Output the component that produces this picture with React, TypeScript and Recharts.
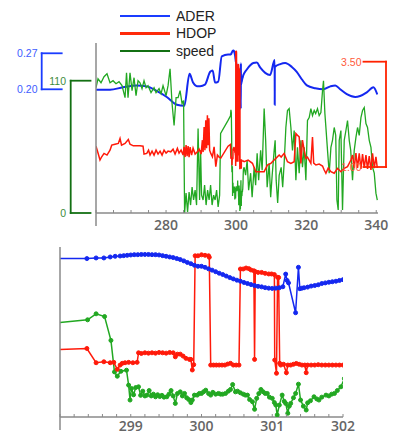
import { LineChart, Line, XAxis, YAxis, Legend } from 'recharts'

// ---- data -------------------------------------------------------------
const seriesNames = ['ADER', 'HDOP', 'speed']

const topTicks = [260, 265, 270, 275, 280, 285, 290, 295, 300, 305, 310, 315, 320, 325, 330, 335, 340]
const topLabels = [280, 300, 320, 340]
const zoomTicks = [298, 298.2, 298.4, 298.6, 298.8, 299, 299.2, 299.4, 299.6, 299.8, 300, 300.2, 300.4, 300.6, 300.8, 301, 301.2, 301.4, 301.6, 301.8, 302]
const zoomLabels = [299, 300, 301, 302]
const aderTicks = [0.2, 0.27]
const hdopTicks = [1, 3.5]
const speedTicks = [0, 110]

// ADER before / inside / after the zoomed window
const aderHead: [number, number][] = [
  [260, 0.199], [264, 0.199], [267.7, 0.204], [271.6, 0.2076], [274.5, 0.2057], [277.3, 0.1968],
  [280.2, 0.185], [283.1, 0.17], [285.2, 0.168], [286.7, 0.23], [287.7, 0.213], [288.8, 0.206],
  [289.7, 0.206], [291.1, 0.209], [292.6, 0.234], [293.3, 0.2365], [294, 0.213], [294.9, 0.215],
  [295.9, 0.264],
]
const aderZoom: [number, number][] = [
  [297.7, 0.2675], [298.38, 0.2675], [298.51, 0.2687], [298.62, 0.2687], [298.71, 0.2706], [298.78, 0.2719],
  [298.85, 0.2725], [298.9, 0.2732], [298.95, 0.2738], [299, 0.2745], [299.05, 0.2751], [299.1, 0.2751],
  [299.15, 0.2755], [299.2, 0.2755], [299.25, 0.2755], [299.3, 0.2751], [299.35, 0.2751], [299.4, 0.2745],
  [299.45, 0.2732], [299.5, 0.2719], [299.55, 0.2706], [299.6, 0.2694], [299.65, 0.2675], [299.7, 0.2656],
  [299.75, 0.263], [299.8, 0.26], [299.85, 0.2575], [299.9, 0.2545], [299.95, 0.2525], [300, 0.2525],
  [300.05, 0.2505], [300.1, 0.2475], [300.15, 0.245], [300.2, 0.242], [300.25, 0.239], [300.3, 0.2365],
  [300.35, 0.2335], [300.4, 0.2305], [300.45, 0.228], [300.5, 0.2255], [300.55, 0.2235], [300.6, 0.221],
  [300.65, 0.219], [300.7, 0.217], [300.75, 0.215], [300.8, 0.2135], [300.85, 0.2125], [300.9, 0.211],
  [300.95, 0.21], [301, 0.2095], [301.05, 0.21], [301.1, 0.2108], [301.15, 0.2127], [301.19, 0.2373],
  [301.21, 0.225], [301.23, 0.2202], [301.33, 0.1622], [301.37, 0.2505], [301.39, 0.2089], [301.42, 0.21],
  [301.45, 0.2108], [301.5, 0.212], [301.55, 0.214], [301.6, 0.2151], [301.65, 0.2165], [301.7, 0.219],
  [301.75, 0.2202], [301.8, 0.2215], [301.85, 0.2225], [301.9, 0.2235], [301.95, 0.225], [302, 0.2265],
  [302.05, 0.2275],
]
const aderTail: [number, number][] = [
  [303, 0.238], [304.9, 0.251], [305.9, 0.252], [306.9, 0.242], [308.3, 0.232], [309.7, 0.228],
  [311, 0.257], [311.02, 0.17], [311.04, 0.243], [312.6, 0.249], [314, 0.251], [315.9, 0.2435],
  [317.3, 0.234], [318.8, 0.219], [320.2, 0.2076], [322.6, 0.202], [324.9, 0.2], [326.9, 0.2057],
  [328.3, 0.2076], [329.7, 0.2], [331.6, 0.1905], [334, 0.185], [335.4, 0.187], [337.3, 0.194],
  [339.2, 0.204], [340.3, 0.19],
]

const hdopHead: [number, number][] = [
  [260, 1.495], [260.66, 1.307], [261.14, 1.165], [261.63, 1.243], [262.29, 1.323], [263.14, 1.283],
  [264, 1.4], [264.49, 1.519], [265.43, 1.542], [266.37, 1.559], [266.86, 1.677], [267.29, 1.519],
  [268.29, 1.559], [269.23, 1.653], [269.71, 1.542], [270.66, 1.502], [272.57, 1.502], [273.43, 1.495],
  [273.71, 1.307], [274.49, 1.323], [275, 1.4], [275.43, 1.283], [276, 1.377], [276.57, 1.283],
  [277.14, 1.4], [277.71, 1.307], [278.29, 1.377], [278.86, 1.283], [279.43, 1.4], [280, 1.33],
  [280.57, 1.377], [281.34, 1.361], [282, 1.424], [282.57, 1.307], [283.23, 1.441], [283.71, 1.33],
  [284.29, 1.4], [284.86, 1.283], [285.14, 1.479], [285.43, 1.236], [285.71, 1.519], [286, 1.259],
  [286.29, 1.495], [286.57, 1.236], [286.86, 1.472], [287.29, 1.283], [287.71, 1.448], [288.29, 1.307],
  [288.94, 1.361], [289.43, 1.424], [290, 1.307], [290.37, 1.637], [290.57, 1.354], [290.86, 1.95],
  [291.09, 1.4], [291.34, 2.108], [291.57, 1.448], [291.8, 2.226], [292, 1.519], [292.23, 2.155],
  [292.43, 1.4], [292.77, 1.323], [293.23, 1.243], [293.71, 1.479], [294.2, 1.007], [294.66, 1.283],
  [295.14, 1.236], [295.63, 1.212],
]
const hdopZoom: [number, number][] = [
  [297.7, 1.495], [298.38, 1.535], [298.51, 1.196], [298.62, 1.219], [298.71, 1.196], [298.76, 1.205],
  [298.81, 1.04], [298.85, 1.141], [298.88, 1.182], [298.92, 1.196], [298.97, 1.205], [299.03, 1.196],
  [299.09, 1.205], [299.11, 1.432], [299.15, 1.417], [299.2, 1.432], [299.25, 1.424], [299.3, 1.432],
  [299.35, 1.424], [299.4, 1.44], [299.45, 1.432], [299.5, 1.424], [299.55, 1.44], [299.6, 1.432],
  [299.63, 1.337], [299.66, 1.4], [299.7, 1.4], [299.74, 1.354], [299.78, 1.3], [299.83, 1.276],
  [299.85, 1.276], [299.87, 1.024], [299.89, 1.15], [299.91, 3.735], [299.95, 3.735], [300, 3.759],
  [300.05, 3.747], [300.1, 3.735], [300.11, 3.7], [300.13, 1.141], [300.17, 1.141], [300.21, 1.141],
  [300.25, 1.141], [300.29, 1.141], [300.33, 1.141], [300.37, 1.165], [300.41, 1.182], [300.45, 1.141],
  [300.49, 1.141], [300.53, 1.141], [300.55, 3.422], [300.59, 3.422], [300.63, 3.445], [300.67, 3.43],
  [300.7, 3.398], [300.74, 3.38], [300.75, 1.276], [300.76, 3.36], [300.8, 3.341], [300.85, 3.341],
  [300.9, 3.318], [300.95, 3.304], [300.99, 3.304], [301.03, 3.29], [301.035, 1.26], [301.06, 0.946],
  [301.075, 3.224], [301.09, 3.22], [301.105, 1.182], [301.12, 1.141], [301.16, 1.16], [301.2, 0.96],
  [301.22, 1.141], [301.26, 1.141], [301.3, 1.16], [301.34, 1.18], [301.38, 1.16], [301.42, 1.141],
  [301.46, 1.141], [301.48, 0.96], [301.5, 1.141], [301.55, 1.141], [301.6, 1.141], [301.65, 1.15],
  [301.7, 1.141], [301.75, 1.141], [301.8, 1.141], [301.85, 1.141], [301.9, 1.141], [301.95, 1.141],
  [302, 1.141], [302.05, 1.141],
]
const hdopTail: [number, number][] = [
  [302.29, 1.125], [303.43, 1.165], [304.66, 1.087], [305.63, 0.889], [306.86, 0.889], [308, 0.889],
  [308.94, 1.047], [309.91, 1.087], [310.86, 1.165], [311.34, 1.205], [312.29, 1.283], [312.86, 1.236],
  [313.71, 1.323], [314.66, 1.125], [315.63, 1.087], [316.57, 1.125], [317.06, 1.795], [317.51, 1.755],
  [318, 1.714], [318.49, 1.087], [318.94, 1.637], [319.43, 1.4], [319.91, 1.205], [320.37, 1.236],
  [321.34, 1.087], [321.8, 1.714], [322.14, 1.094], [322.77, 1.047], [323.71, 1.071], [324.66, 1.024],
  [325.14, 0.929], [325.63, 0.851], [326.29, 0.976], [327.06, 0.889], [328, 0.851], [328.94, 0.969],
  [329.91, 0.889], [330.86, 0.969], [331.8, 1.007], [332.77, 1.165], [333.23, 1.283], [333.71, 0.976],
  [334.2, 1.33], [334.66, 0.976], [335.14, 1.323], [335.63, 0.953], [336.09, 1.307], [336.57, 0.976],
  [337.06, 1.283], [337.51, 0.953], [338, 1.259], [338.49, 0.929], [338.94, 1.323], [339.43, 0.976],
  [339.91, 1.243], [340.3, 0.976],
]

const speedHead: [number, number][] = [
  [260, 104.2], [260.57, 111.6], [261.43, 108.3], [262.29, 113.3], [263.14, 115.8], [264, 108.3],
  [264.86, 110], [265.71, 107.5], [266.57, 109.2], [267.43, 105.9], [268.29, 95.9], [268.71, 116.6],
  [269.14, 95.9], [269.71, 116.6], [270.29, 101.7], [270.86, 112.5], [271.43, 97.6], [272, 110],
  [272.57, 108.3], [273.14, 103.4], [273.71, 110], [274.29, 104.2], [274.86, 105.9], [275.71, 100.1],
  [276.57, 104.2], [277.14, 100.1], [278, 103.4], [278.57, 99.2], [279.14, 105.9], [280, 97.6],
  [280.57, 105.9], [281.14, 119.9], [281.71, 91], [282.29, 72.8], [282.86, 95.9], [283.43, 95.9],
  [284, 101.7], [284.57, 91], [285, 93.5], [285.29, 0], [285.71, 16.5], [286.14, 0.8], [286.57, 17.4],
  [287, 6.6], [287.43, 21.5], [287.86, 10.8], [288.29, 19], [288.71, 6.6], [289.14, 70.3], [289.57, 10.8],
  [289.86, 52.1], [290.14, 14.9], [290.57, 10.8], [291, 23.2], [291.43, 6.6], [291.86, 19], [292.29, 10.8],
  [292.71, 23.2], [293.14, 6.6], [293.57, 14.9], [294, 10.8], [294.43, 19], [294.86, 5], [295.29, 14.9],
  [295.57, 66.2],
]
const speedZoom: [number, number][] = [
  [297.7, 77], [298.39, 80.8], [298.51, 85.8], [298.63, 83.5], [298.72, 63.7], [298.77, 37.5],
  [298.81, 33.9], [298.86, 38], [298.94, 38.9], [298.97, 26.5], [298.99, 14.1], [299.01, 23.7],
  [299.04, 18.5], [299.07, 24.5], [299.11, 25.1], [299.14, 18], [299.17, 21.5], [299.2, 17.5],
  [299.23, 18.2], [299.26, 22], [299.29, 17.5], [299.32, 19], [299.35, 16.8], [299.38, 18.5],
  [299.41, 17], [299.44, 18], [299.47, 16.5], [299.51, 16.8], [299.54, 19], [299.57, 22], [299.6, 17.5],
  [299.63, 11.3], [299.66, 19.5], [299.7, 20.9], [299.73, 17.5], [299.76, 19.6], [299.79, 16],
  [299.82, 14.5], [299.85, 12], [299.87, 14.1], [299.9, 18.2], [299.94, 18.2], [299.97, 19.6], [300, 19.6],
  [300.03, 21], [300.06, 22.3], [300.1, 19.5], [300.13, 18.2], [300.16, 20.5], [300.2, 19], [300.24, 19.6],
  [300.27, 19], [300.3, 19], [300.34, 19.6], [300.38, 21.5], [300.41, 22.9], [300.44, 27], [300.48, 20.9],
  [300.51, 21.5], [300.55, 20.1], [300.59, 19], [300.62, 18.2], [300.65, 18.2], [300.68, 14.5],
  [300.72, 12.7], [300.75, 6.4], [300.78, 15.5], [300.81, 19.5], [300.84, 22.9], [300.87, 21],
  [300.9, 19.6], [300.93, 19.6], [300.96, 16.5], [301, 15.5], [301.03, 12], [301.05, 9.9], [301.07, 1.7],
  [301.1, 9.9], [301.14, 18.2], [301.17, 13], [301.19, 11.3], [301.22, 3.1], [301.24, 9], [301.26, 11.3],
  [301.3, 16], [301.33, 19.6], [301.37, 27.3], [301.4, 14.1], [301.44, 9], [301.48, 5.8], [301.5, 11.8],
  [301.54, 13.5], [301.59, 16.8], [301.63, 15], [301.66, 14.1], [301.7, 16.5], [301.76, 18.2],
  [301.8, 17.5], [301.84, 19], [301.88, 19.6], [301.92, 22], [301.97, 25.1], [302.02, 32], [302.08, 36],
]
const speedTail: [number, number][] = [
  [302.29, 38], [302.71, 31.4], [303.14, 43.8], [303.57, 19], [304.14, 33.1], [304.57, 13.2], [305.14, 38],
  [305.57, 23.2], [306, 49.6], [306.43, 27.3], [307, 52.1], [307.43, 35.6], [308, 86.8], [308.43, 60.4],
  [308.86, 21.5], [309.43, 41.4], [309.86, 13.2], [310.29, 31.4], [310.86, 52.1], [311.14, 60.4],
  [311.43, 27.3], [311.86, 8.3], [312.29, 31.4], [312.86, 38], [313.29, 21.5], [313.71, 41.4],
  [314.2, 71.1], [314.66, 85.2], [315.14, 86.8], [315.63, 71.1], [316.09, 52.1], [316.57, 68.6],
  [317.06, 27.3], [317.51, 54.6], [318, 33.1], [318.49, 60.4], [318.94, 38], [319.43, 54.6],
  [319.91, 27.3], [320.37, 76.9], [320.86, 79.4], [321.34, 86.8], [321.8, 81], [322.29, 85.2],
  [322.71, 82.7], [323.23, 86.8], [323.71, 81], [324.2, 83.5], [324.66, 101.7], [324.94, 110],
  [325.34, 82.7], [325.63, 71.1], [326.09, 52.1], [326.57, 33.1], [327.06, 54.6], [327.51, 60.4],
  [328, 71.1], [328.43, 64.5], [328.77, 10.8], [329.14, 2.5], [329.43, 60.4], [329.91, 68.6],
  [330.37, 2.5], [330.86, 60.4], [331.34, 68.6], [331.8, 76.9], [332.29, 60.4], [332.71, 52.1],
  [333.23, 27.3], [333.71, 52.1], [334.2, 62.9], [334.66, 71.1], [335.14, 64.5], [335.63, 79.4],
  [336.09, 85.2], [336.57, 87.7], [337.06, 74.4], [337.51, 71.1], [338, 60.4], [338.49, 54.6],
  [338.94, 38], [339.43, 33.1], [339.91, 16.5], [340.3, 10.8],
]

// ---- styling ----------------------------------------------------------
const PLOT_H = 170
const AXIS = '#8a8a8a'
const BLUE = '#1428f0'
const RED = '#ff1a0a'
const GREEN = '#22a822'
const aderDomain: [number, number] = [-0.0405, 0.29]
const hdopDomain: [number, number] = [-0.092, 3.944]
const speedDomain: [number, number] = [0, 141.35]
const legendColors = ['#1a3cff', '#ff2a0a', '#137013']

const pts = (a: [number, number][]) => a.map(([x, v]) => ({ x, v }))
const aderAll = pts([...aderHead, ...aderZoom, ...aderTail])
const hdopAll = pts([...hdopHead, ...hdopZoom, ...hdopTail])
const speedAll = pts([...speedHead, ...speedZoom, ...speedTail])

interface Bracket {
  hi: number
  lo: number
  domain: [number, number]
  axisX: number
  innerX: number
  labelX: number
  line: string
  text: string
  fmt: (v: number) => string
}

const aderBracket: Bracket = {
  hi: 0.27, lo: 0.2, domain: aderDomain, axisX: 41.7, innerX: 61.7, labelX: 37.5,
  line: '#1a3cff', text: '#3d5cff', fmt: v => v.toFixed(2),
}
const speedBracket: Bracket = {
  hi: 110, lo: 0, domain: speedDomain, axisX: 70.7, innerX: 90.5, labelX: 66,
  line: '#137013', text: '#3c8c3c', fmt: v => String(v),
}
const hdopBracket: Bracket = {
  hi: 3.5, lo: 1, domain: hdopDomain, axisX: 386, innerX: 363.5, labelX: 361.5,
  line: '#ff2200', text: '#ff5a3a', fmt: v => v.toFixed(2),
}

function BracketTick({ y, payload, b }: any) {
  const v = payload.value as number
  const span = ((b.hi - b.lo) / (b.domain[1] - b.domain[0])) * PLOT_H
  return (
    <g>
      <line x1={b.axisX} x2={b.innerX} y1={y} y2={y} stroke={b.line} strokeWidth={1.8} strokeLinecap="square" />
      {v === b.hi && (
        <line x1={b.axisX} x2={b.axisX} y1={y} y2={y + span} stroke={b.line} strokeWidth={1.8} strokeLinecap="square" />
      )}
      <text x={b.labelX} y={y} textAnchor="end" dominantBaseline="central" fontSize={10.5}
        fontFamily="'Liberation Sans', Arial, sans-serif" fill={b.text}>
        {b.fmt(v)}
      </text>
    </g>
  )
}

function AxisTick({ x, y, payload, first, labels, dy }: any) {
  const v = payload.value as number
  return (
    <g>
      <line x1={x} x2={x} y1={y} y2={y - 3} stroke={AXIS} strokeWidth={1} />
      {v === first && <line x1={x} x2={x} y1={y + 13} y2={y - PLOT_H} stroke={AXIS} strokeWidth={1.5} />}
      {labels.includes(v) && (
        <text x={x} y={y + dy} textAnchor="middle" dominantBaseline="central" fontSize={14}
          fontWeight={600} fontFamily="'Open Sans', sans-serif" fill="#666">
          {v}
        </text>
      )}
    </g>
  )
}

function LegendBox() {
  return (
    <div style={{ fontFamily: "'Liberation Sans', Arial, sans-serif", fontSize: 14, color: '#222' }}>
      {seriesNames.map((name, i) => (
        <div key={name} style={{ display: 'flex', alignItems: 'center', height: 17.5 }}>
          <span style={{ display: 'inline-block', width: 50, height: 2.5, background: legendColors[i], marginRight: 6 }} />
          {name}
        </div>
      ))}
    </div>
  )
}

export default function App() {
  return (
    <div style={{ width: 400, height: 434, background: '#fff' }}>
      <style>{'body{margin:0}'}</style>
      <LineChart width={400} height={236} margin={{ top: 43, right: 0, bottom: 0, left: 0 }}>
        <YAxis yAxisId="ader" orientation="left" width={48} domain={aderDomain} allowDataOverflow
          ticks={aderTicks} interval={0} axisLine={false} tickLine={false} tickSize={0} tickMargin={0}
          tick={(p: any) => <BracketTick {...p} b={aderBracket} />} />
        <YAxis yAxisId="speed" orientation="left" width={48} domain={speedDomain} allowDataOverflow
          ticks={speedTicks} interval={0} axisLine={false} tickLine={false} tickSize={0} tickMargin={0}
          tick={(p: any) => <BracketTick {...p} b={speedBracket} />} />
        <YAxis yAxisId="hdop" orientation="right" width={22} domain={hdopDomain} allowDataOverflow
          ticks={hdopTicks} interval={0} axisLine={false} tickLine={false} tickSize={0} tickMargin={0}
          tick={(p: any) => <BracketTick {...p} b={hdopBracket} />} />
        <XAxis dataKey="x" type="number" domain={[260, 340.5]} allowDataOverflow ticks={topTicks}
          interval={0} height={23} tickSize={0} tickMargin={0} tickLine={false}
          axisLine={{ stroke: AXIS, strokeWidth: 1.5 }}
          tick={(p: any) => <AxisTick {...p} first={260} labels={topLabels} dy={11} />} />
        <Legend layout="vertical" align="center" verticalAlign="middle"
          wrapperStyle={{ top: 7, left: 120, width: 120 }} content={() => <LegendBox />} />
        <Line yAxisId="ader" data={aderAll} dataKey="v" name={seriesNames[0]} type="monotone"
          stroke={BLUE} strokeWidth={2} dot={false} isAnimationActive={false} />
        <Line yAxisId="speed" data={speedAll} dataKey="v" name={seriesNames[2]} type="linear"
          stroke={GREEN} strokeWidth={1.3} dot={false} isAnimationActive={false} />
        <Line yAxisId="hdop" data={hdopAll} dataKey="v" name={seriesNames[1]} type="linear"
          stroke={RED} strokeWidth={1.5} dot={false} isAnimationActive={false} />
      </LineChart>
      <LineChart width={400} height={198} margin={{ top: 11, right: 57, bottom: 0, left: 60 }}>
        <YAxis yAxisId="ader" hide domain={aderDomain} allowDataOverflow />
        <YAxis yAxisId="speed" hide domain={speedDomain} allowDataOverflow />
        <YAxis yAxisId="hdop" hide domain={hdopDomain} allowDataOverflow />
        <XAxis dataKey="x" type="number" domain={[298, 302]} allowDataOverflow ticks={zoomTicks}
          interval={0} height={17} tickSize={0} tickMargin={0} tickLine={false}
          axisLine={{ stroke: AXIS, strokeWidth: 1.5 }}
          tick={(p: any) => <AxisTick {...p} first={298} labels={zoomLabels} dy={8} />} />
        <Line yAxisId="ader" data={pts(aderZoom)} dataKey="v" type="linear" stroke={BLUE} strokeWidth={1.5}
          dot={{ r: 2, strokeWidth: 1, fill: BLUE }} isAnimationActive={false} />
        <Line yAxisId="speed" data={pts(speedZoom)} dataKey="v" type="linear" stroke={GREEN} strokeWidth={1.5}
          dot={{ r: 2, strokeWidth: 1, fill: GREEN }} isAnimationActive={false} />
        <Line yAxisId="hdop" data={pts(hdopZoom)} dataKey="v" type="linear" stroke={RED} strokeWidth={1.5}
          dot={{ r: 2, strokeWidth: 1, fill: RED }} isAnimationActive={false} />
      </LineChart>
    </div>
  )
}
